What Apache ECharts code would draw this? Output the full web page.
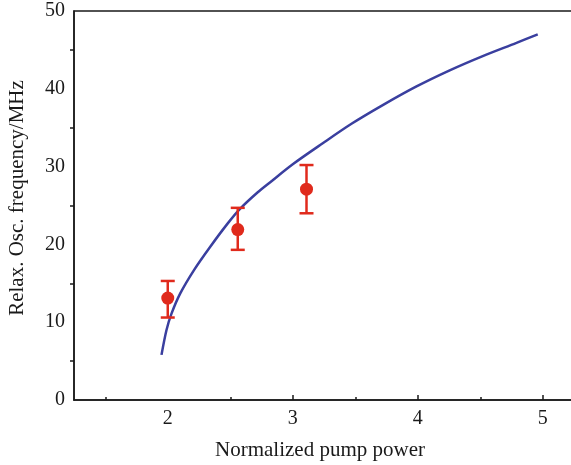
<!DOCTYPE html>
<html>
<head>
<meta charset="utf-8">
<script src="https://cdn.jsdelivr.net/npm/echarts@6/dist/echarts.min.js"></script>
<style>
  html, body { margin: 0; padding: 0; background: #fff; }
  #chart { width: 571px; height: 465px; }
</style>
</head>
<body>
<div id="chart"></div>
<script>
// fitted curve
const curveX = [1.95, 1.99, 2.03, 2.10, 2.21, 2.34, 2.48, 2.58, 2.72, 2.82, 3.0, 3.24, 3.47, 3.72, 3.99, 4.26, 4.52, 4.79, 4.96];
const curveY = [5.8, 9.0, 11.1, 13.7, 16.7, 19.7, 22.7, 24.6, 26.7, 28.0, 30.3, 33.0, 35.5, 37.9, 40.3, 42.4, 44.2, 45.9, 47.0];

// measured points with error bars
const pumpX = [2.0, 2.56, 3.11];
const freqY = [13.1, 21.9, 27.1];
const errLow = [10.6, 19.3, 24.0];
const errHigh = [15.3, 24.7, 30.2];

const xLabels = [2, 3, 4, 5];
const xMajorTicks = [3, 4, 5];
const xMinorTicks = [1.5, 2.5, 3.5, 4.5];

const chart = echarts.init(document.getElementById('chart'), null, { renderer: 'canvas' });

const font = '"Liberation Serif", "DejaVu Serif", serif';
const ink = '#1a1a1a';
const red = '#e02a1c';

const curveData = curveX.map((x, i) => [x, curveY[i]]);
const pointData = pumpX.map((x, i) => [x, freqY[i]]);
const errData = pumpX.map((x, i) => [x, errLow[i], errHigh[i]]);

const option = {
  animation: false,
  backgroundColor: '#fff',
  grid: {
    left: 74, top: 11, right: -3, bottom: 65,
    outerBoundsMode: 'none',
    show: true,
    borderColor: ink,
    borderWidth: 1.5
  },
  xAxis: [{
    type: 'value',
    min: 1.25, max: 5.25,
    name: 'Normalized pump power',
    nameLocation: 'middle',
    nameGap: 40,
    nameTextStyle: { fontFamily: font, fontSize: 21, color: ink, padding: [0, 8, 0, 0] },
    axisLine: { lineStyle: { color: ink, width: 1.5 } },
    axisTick: { inside: true, length: 5, customValues: xMajorTicks, lineStyle: { color: ink, width: 1.5 } },
    axisLabel: { customValues: xLabels, margin: 9, fontFamily: font, fontSize: 20, color: ink },
    splitLine: { show: false }
  }, {
    type: 'value',
    min: 1.25, max: 5.25,
    position: 'bottom',
    axisLine: { show: false },
    axisTick: { inside: true, length: 3, customValues: xMinorTicks, lineStyle: { color: ink, width: 1.5 } },
    axisLabel: { show: false },
    splitLine: { show: false }
  }],
  yAxis: {
    type: 'value',
    min: 0, max: 50, interval: 10,
    name: 'Relax. Osc. frequency/MHz',
    nameLocation: 'middle',
    nameGap: 46,
    nameTextStyle: { fontFamily: font, fontSize: 21, color: ink, padding: [0, 0, 0, 15] },
    axisLine: { lineStyle: { color: ink, width: 1.5 } },
    axisTick: { show: false },
    minorTick: { show: true, splitNumber: 2, length: 4, lineStyle: { color: ink, width: 1.5 } },
    axisLabel: { margin: 9, fontFamily: font, fontSize: 20, color: ink },
    splitLine: { show: false }
  },
  series: [{
    type: 'line',
    data: curveData,
    smooth: 0.3,
    showSymbol: false,
    lineStyle: { color: '#3a3f9f', width: 2.5 },
    z: 2
  }, {
    type: 'custom',
    data: errData,
    z: 3,
    renderItem: function (params, api) {
      const x = api.value(0);
      const lo = api.coord([x, api.value(1)]);
      const hi = api.coord([x, api.value(2)]);
      const cap = 7;
      const style = { stroke: red, lineWidth: 2.5 };
      return {
        type: 'group',
        children: [
          { type: 'line', shape: { x1: lo[0], y1: lo[1], x2: hi[0], y2: hi[1] }, style: style },
          { type: 'line', shape: { x1: lo[0] - cap, y1: lo[1], x2: lo[0] + cap, y2: lo[1] }, style: style },
          { type: 'line', shape: { x1: hi[0] - cap, y1: hi[1], x2: hi[0] + cap, y2: hi[1] }, style: style }
        ]
      };
    }
  }, {
    type: 'scatter',
    data: pointData,
    symbol: 'circle',
    symbolSize: 13,
    itemStyle: { color: red, opacity: 1 },
    z: 4
  }]
};

chart.setOption(option);
</script>
</body>
</html>
